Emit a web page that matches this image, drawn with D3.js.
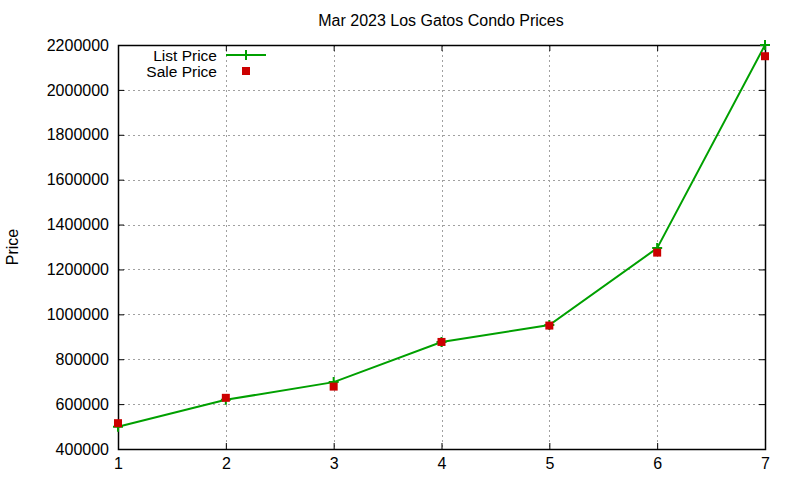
<!DOCTYPE html>
<html>
<head>
<meta charset="utf-8">
<script src="https://cdn.jsdelivr.net/npm/d3@7"></script>
<style>
  body { margin: 0; background: #fff; }
  svg { font-family: "Liberation Sans", Arial, sans-serif; }
</style>
</head>
<body>
<svg id="chart" width="800" height="480"></svg>
<script>
const months = [1, 2, 3, 4, 5, 6, 7];
const listPrice = [499000, 619000, 698000, 877000, 952000, 1295000, 2200000];
const salePrice = [515000, 628000, 678000, 877000, 950000, 1275000, 2150000];
const yTicks = [400000, 600000, 800000, 1000000, 1200000, 1400000, 1600000, 1800000, 2000000, 2200000];

const width = 800, height = 480;
const margin = { top: 45, right: 35, bottom: 31, left: 118 };
const green = "#00a000";
const red = "#cc0000";

const svg = d3.select("#chart");

const x = d3.scaleLinear().domain([1, 7]).range([margin.left, width - margin.right]);
const y = d3.scaleLinear().domain([400000, 2200000]).range([height - margin.bottom, margin.top]);

// grid
const grid = svg.append("g").attr("stroke", "#a0a0a0").attr("stroke-dasharray", "2,3").attr("stroke-width", 1);
grid.selectAll(".gx").data(months.slice(1, -1)).join("line")
  .attr("x1", (d) => Math.round(x(d)) + 0.5).attr("x2", (d) => Math.round(x(d)) + 0.5)
  .attr("y1", margin.top).attr("y2", height - margin.bottom);
grid.selectAll(".gy").data(yTicks.slice(1, -1)).join("line")
  .attr("y1", (d) => Math.round(y(d)) + 0.5).attr("y2", (d) => Math.round(y(d)) + 0.5)
  .attr("x1", margin.left).attr("x2", width - margin.right);

// axes
function styleAxis(g) {
  g.select(".domain").remove();
  g.selectAll("text").attr("font-size", 16).attr("fill", "#000")
    .attr("font-family", "Liberation Sans, Arial, sans-serif");
  g.selectAll(".tick line").attr("stroke", "#000");
}
svg.append("g")
  .attr("transform", `translate(0,${height - margin.bottom})`)
  .call(d3.axisBottom(x).tickValues(months).tickFormat(d3.format("d")).tickSize(-6).tickPadding(9))
  .call(styleAxis);
svg.append("g")
  .attr("transform", `translate(0,${margin.top})`)
  .call(d3.axisTop(x).tickValues(months).tickSize(-6).tickFormat(""))
  .call(styleAxis);
svg.append("g")
  .attr("transform", `translate(${margin.left},0)`)
  .call(d3.axisLeft(y).tickValues(yTicks).tickFormat(d3.format("d")).tickSize(-6).tickPadding(9))
  .call(styleAxis);
svg.append("g")
  .attr("transform", `translate(${width - margin.right},0)`)
  .call(d3.axisRight(y).tickValues(yTicks).tickSize(-6).tickFormat(""))
  .call(styleAxis);

svg.append("rect")
  .attr("x", margin.left + 0.5).attr("y", margin.top + 0.5)
  .attr("width", width - margin.left - margin.right)
  .attr("height", height - margin.top - margin.bottom)
  .attr("fill", "none").attr("stroke", "#000").attr("stroke-width", 1.5);

// list price line
const line = d3.line().x((d, i) => x(months[i])).y((d) => y(d));
svg.append("path").datum(listPrice)
  .attr("d", line).attr("fill", "none").attr("stroke", green).attr("stroke-width", 2);

svg.append("g").selectAll("path").data(listPrice).join("path")
  .attr("d", (d, i) => `M${x(months[i]) - 5},${y(d)}h10M${x(months[i])},${y(d) - 5}v10`)
  .attr("stroke", green).attr("stroke-width", 2);

// sale price points
svg.append("g").selectAll("rect").data(salePrice).join("rect")
  .attr("x", (d, i) => x(months[i]) - 4).attr("y", (d) => y(d) - 4)
  .attr("width", 8).attr("height", 8).attr("fill", red);

// legend
const legend = svg.append("g").attr("font-size", 15.5);
legend.append("text").attr("x", 217).attr("y", 61).attr("text-anchor", "end").text("List Price");
legend.append("line").attr("x1", 226).attr("x2", 266).attr("y1", 55).attr("y2", 55)
  .attr("stroke", green).attr("stroke-width", 2);
legend.append("path").attr("d", "M241,55h10M246,50v10").attr("stroke", green).attr("stroke-width", 2);
legend.append("text").attr("x", 217).attr("y", 77).attr("text-anchor", "end").text("Sale Price");
legend.append("rect").attr("x", 242).attr("y", 67).attr("width", 8).attr("height", 8).attr("fill", red);

// title and axis label
svg.append("text").attr("x", 441).attr("y", 26).attr("text-anchor", "middle")
  .attr("font-size", 16).text("Mar 2023 Los Gatos Condo Prices");
svg.append("text").attr("transform", "translate(18,247) rotate(-90)")
  .attr("text-anchor", "middle").attr("font-size", 16).text("Price");
</script>
</body>
</html>
